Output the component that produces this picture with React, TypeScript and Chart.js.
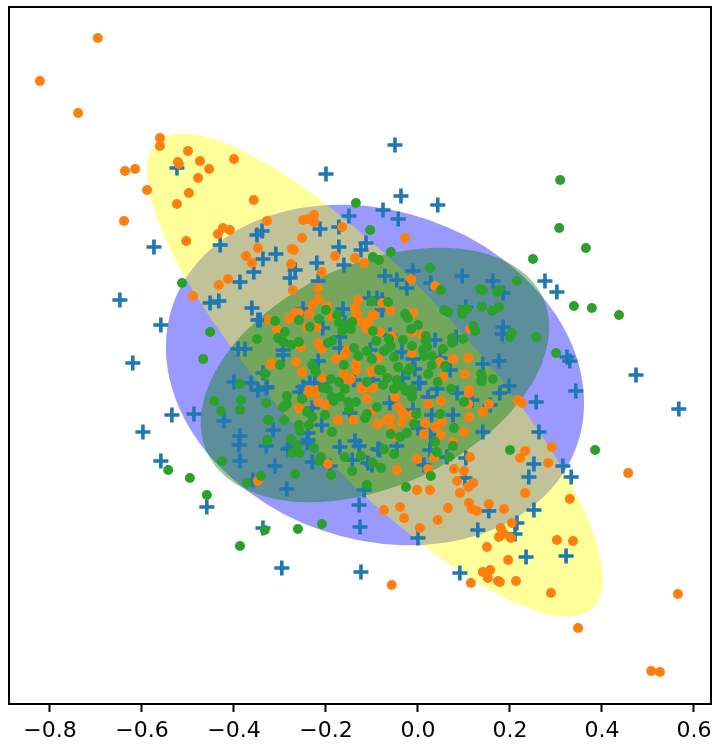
import React, { useEffect, useRef } from "react";
import { Chart, registerables } from "chart.js";

Chart.register(...registerables);

const tickValues = [-0.8, -0.6, -0.4, -0.2, 0, 0.2, 0.4, 0.6];

// [x, y]
const plusPoints = [
[-.524,.414],[-.574,.256],[-.430,.260],[-.050,.460],[-.200,.402],[-.037,.358],[.043,.340],[-.076,.330],[-.150,.318],[-.043,.312],
[-.213,.292],[-.172,.296],[-.339,.288],[-.350,.280],[-.113,.264],[-.172,.256],[-.124,.250],[-.309,.242],[-.337,.232],[-.220,.224],
[-.161,.220],[-.011,.208],[-.267,.210],[-.357,.206],[-.072,.198],[-.046,.190],[-.278,.194],[-.217,.188],[-.024,.174],[.028,.184],
[.096,.198],[-.387,.186],[-.107,.154],[-.089,.154],[-.078,.150],[.276,.188],[.302,.166],[.163,.188],[.185,.164],[.185,.096],
[.183,.082],[.324,.036],[.330,.028],[.474,0],[.343,-.032],[.141,.022],[.176,.028],[.198,-.022],[.178,-.036],[.257,-.054],
[-.648,.150],[-.559,.100],[-.620,.024],[-.535,-.080],[-.487,-.078],[-.598,-.114],[-.422,-.092],[-.387,-.122],[-.452,.144],[-.433,.148],
[-.361,.134],[-.343,.110],[-.348,.110],[-.391,.052],[-.376,.052],[-.400,-.014],[-.363,-.016],[-.348,-.030],[-.330,-.026],[-.337,.004],
[-.250,.132],[-.163,.132],[-.159,.104],[-.207,.094],[-.170,.076],[-.170,.054],[-.293,.050],[-.293,.040],[-.217,.028],[-.139,-.010],
[-.250,-.024],[-.224,-.016],[-.078,.130],[.104,.136],[.037,.070],[.083,.076],[-.035,.046],[-.011,.032],[-.007,.012],[-.061,.080],
[.070,.010],[.048,.034],[-.033,-.006],[.002,-.016],[.041,-.028],[-.104,.050],[-.098,-.010],[-.328,-.024],[-.257,-.034],[-.235,-.016],
[-.230,-.066],[-.209,-.016],[-.209,-.100],[-.239,-.130],[-.315,-.110],[-.330,-.142],[-.283,-.148],[-.311,-.182],[-.230,-.174],[-.170,-.144],
[-.143,-.170],[-.137,-.132],[-.128,-.142],[-.148,-.076],[-.100,-.180],[-.087,-.148],[.004,-.016],[.085,-.036],[.117,-.050],[-.061,-.056],
[.022,-.044],[-.011,-.070],[.030,-.080],[.076,-.080],[.141,-.114],[0,-.106],[.028,-.120],[-.046,-.142],[.026,-.150],[.063,-.164],
[.104,-.166],[-.083,-.150],[.013,-.180],[.102,-.206],[-.559,-.172],[-.459,-.264],[-.337,-.306],[-.296,-.386],[-.124,-.394],[-.126,-.304],
[-.128,-.260],[-.285,-.228],[-.387,-.172],[-.389,-.140],[-.278,-.146],[-.241,-.136],[-.239,-.116],[-.359,-.210],[-.191,-.182],[-.117,-.230],
[-.109,-.176],[.241,-.204],[.252,-.270],[.130,-.310],[.154,-.272],[0,-.326],[.091,-.396],[.215,-.296],[.211,-.318],[.235,-.364],
[.322,-.362],[.567,-.068],[.263,-.114],[.252,-.178],[.315,-.182],[.333,-.204],[.157,-.060],
];

const orangePoints = [
[-.696,.674],[-.822,.588],[-.739,.524],[-.561,.474],[-.561,.458],[-.500,.448],[-.400,.432],[-.522,.426],[-.520,.422],[-.474,.428],
[-.454,.412],[-.615,.412],[-.637,.408],[-.478,.394],[-.589,.370],[-.498,.364],[-.524,.342],[-.639,.308],[-.424,.294],[-.409,.290],
[-.435,.282],[-.504,.268],[-.357,.350],[-.328,.308],[-.226,.320],[-.239,.312],[-.250,.310],[-.226,.306],[-.165,.296],[-.252,.274],
[-.028,.274],[-.348,.254],[-.274,.252],[-.270,.250],[-.374,.238],[-.361,.224],[-.276,.222],[-.180,.238],[-.137,.234],[-.117,.224],
[-.209,.206],[-.015,.192],[-.217,.174],[-.272,.170],[.037,.178],[-.217,.152],[-.130,.150],[.217,-.050],[-.489,.158],[-.433,.180],
[-.413,.192],[-.324,.110],[-.320,.022],[-.230,.140],[-.198,.138],[-.267,.124],[-.259,.124],[-.237,.122],[-.280,.112],[-.189,.118],
[-.137,.134],[-.133,.122],[-.126,.108],[-.096,.120],[-.109,.106],[-.113,.092],[-.307,.092],[-.241,.096],[-.220,.096],[-.217,.064],
[-.209,.052],[-.254,.056],[-.154,.050],[-.159,.042],[-.178,.032],[-.315,.022],[-.265,.026],[-.252,.006],[-.135,.022],[-.135,.010],
[-.161,.004],[-.102,.008],[-.207,-.006],[-.159,-.008],[-.146,-.008],[-.237,-.030],[-.220,-.030],[-.122,-.026],[-.078,.144],[-.061,.130],
[-.098,.120],[-.011,.124],[-.083,.086],[-.057,.078],[-.013,.086],[.009,.080],[.113,.092],[-.013,.044],[-.087,.034],[.076,.032],
[.109,.034],[.102,.002],[.054,-.004],[-.100,.006],[-.098,-.026],[.111,-.030],[.048,.026],[-.239,-.036],[-.224,-.034],[-.217,-.054],
[-.200,-.060],[-.259,-.066],[-.174,-.090],[-.141,-.090],[-.120,-.028],[-.111,-.048],[-.102,-.074],[-.089,-.098],[-.196,-.178],[-.348,-.212],
[.050,-.052],[.111,-.036],[.109,-.058],[.022,-.058],[-.050,-.044],[-.043,-.064],[-.033,-.076],[-.061,-.086],[-.067,-.090],[-.087,-.098],
[-.035,-.094],[-.013,-.080],[.141,-.074],[.111,-.084],[.015,-.096],[.037,-.104],[.052,-.094],[.154,-.058],[.100,-.114],[.013,-.118],
[.050,-.120],[-.057,-.106],[-.046,-.124],[.076,-.134],[-.002,-.168],[.035,-.164],[.113,-.164],[-.046,-.190],[.022,-.188],[.078,-.188],
[.100,-.192],[-.057,-.420],[.115,-.416],[.004,-.306],[.043,-.290],[-.030,-.286],[-.039,-.264],[-.074,-.270],[.065,-.266],[-.002,-.230],
[.026,-.230],[.085,-.212],[.120,-.216],[.109,-.224],[.091,-.236],[.111,-.256],[.117,-.268],[.128,-.272],[.154,-.258],[.187,-.268],
[.233,-.236],[.180,-.306],[.204,-.296],[.187,-.318],[.176,-.324],[.202,-.326],[.150,-.344],[.196,-.370],[.141,-.394],[.157,-.390],
[.152,-.406],[.174,-.412],[.178,-.414],[.213,-.412],[.291,-.144],[.233,-.152],[.222,-.166],[.283,-.176],[.457,-.196],[.330,-.248],
[.302,-.330],[.337,-.332],[.289,-.436],[.565,-.438],[.348,-.506],[.507,-.592],[.526,-.594],[.226,-.056],
];

const greenPoints = [
[-.135,.344],[-.104,.290],[-.059,.246],[-.098,.236],[-.085,.230],[.026,.214],[.050,.170],[.135,.172],[-.100,.148],[-.065,.146],
[.309,.390],[.307,.294],[.365,.254],[.250,.232],[.215,.188],[.339,.138],[.378,.134],[.437,.120],[.141,.170],[.176,.170],
[.172,.166],[.139,.136],[.176,.136],[.161,.128],[.204,.084],[.200,.076],[.257,.076],[.300,.044],[.163,-.008],[.139,-.004],
[.139,-.012],[-.513,.184],[-.452,.086],[-.467,.032],[-.350,.072],[-.333,.002],[-.387,-.018],[-.385,-.050],[-.387,-.070],[-.443,-.052],
[-.428,-.072],[-.330,-.056],[-.326,-.090],[-.328,-.130],[-.200,.130],[-.176,.120],[-.311,.108],[-.259,.110],[-.215,.112],[-.235,.096],
[-.172,.104],[-.163,.100],[-.143,.106],[-.165,.088],[-.146,.092],[-.098,.088],[-.289,.086],[-.304,.074],[-.293,.066],[-.276,.060],
[-.259,.066],[-.196,.064],[-.187,.068],[-.091,.068],[-.139,.054],[-.111,.048],[-.130,.038],[-.100,.032],[-.230,.020],[-.224,.012],
[-.222,.006],[-.300,.020],[-.161,.020],[-.085,.010],[-.189,-.008],[-.172,-.014],[-.111,-.014],[-.196,-.028],[-.159,-.028],[-.028,.122],
[-.022,.114],[.057,.130],[.065,.126],[.096,.130],[.107,.132],[.096,.122],[.120,.098],[.124,.088],[-.015,.092],[0,.100],
[-.063,.072],[-.033,.070],[.017,.078],[.017,.068],[.074,.074],[.074,.064],[.098,.072],[-.059,.058],[-.065,.054],[-.074,.048],
[-.052,.036],[-.013,.058],[.011,.050],[.020,.056],[.054,.052],[.013,.038],[.030,.038],[.030,.020],[.059,.018],[-.043,.016],
[-.080,.010],[-.017,.014],[-.022,.008],[.022,.002],[-.067,-.006],[-.046,-.010],[-.076,-.020],[.043,-.014],[.137,.002],[.137,-.012],
[-.052,-.028],[-.033,-.024],[-.013,-.028],[.072,-.028],[-.285,-.042],[-.285,-.058],[-.293,-.064],[-.252,-.048],[-.241,-.074],[-.230,-.084],
[-.202,-.080],[-.237,-.100],[-.259,-.100],[-.257,-.112],[-.291,-.090],[-.324,-.090],[-.328,-.132],[-.276,-.128],[-.263,-.140],[-.274,-.156],
[-.257,-.156],[-.226,-.146],[-.211,-.164],[-.215,-.172],[-.187,-.114],[-.159,-.164],[-.124,-.162],[-.098,-.176],[-.143,-.192],[-.267,-.198],
[-.189,-.200],[-.341,-.202],[-.207,-.026],[-.187,-.044],[-.183,-.052],[-.170,-.044],[-.152,-.054],[-.135,-.054],[-.150,-.068],[-.089,-.064],
[-.115,-.086],[-.111,-.078],[-.026,-.032],[-.013,-.034],[-.013,-.044],[.100,-.054],[-.004,-.078],[.048,-.078],[-.009,-.098],[.078,-.106],
[-.024,-.116],[-.059,-.118],[-.039,-.124],[.037,-.134],[.076,-.142],[.041,-.154],[-.074,-.148],[-.052,-.158],[.067,-.164],[-.080,-.186],
[.028,-.202],[-.543,-.190],[-.496,-.206],[-.459,-.240],[-.333,-.310],[-.387,-.342],[-.261,-.308],[-.209,-.298],[-.426,-.172],[-.372,-.216],
[-.111,-.220],[-.026,-.224],[.200,-.150],[.385,-.150],
];

// centre x, centre y, semi-major, semi-minor (x-axis units), rotation in degrees
const ellipseCenter = [-0.0935, 0];
const blueEllipse = [0.465, 0.357, 19.2];
const yellowEllipse = [0.693, 0.202, 47];
const greenEllipse = [0.402, 0.242, -24.7];

const toXY = (pts: number[][]) => pts.map(([x, y]) => ({ x, y }));

const ellipsePlugin = {
  id: "ellipses",
  beforeDatasetsDraw(chart: any) {
    const { ctx, scales, chartArea } = chart;
    const cx = scales.x.getPixelForValue(ellipseCenter[0]);
    const cy = scales.y.getPixelForValue(ellipseCenter[1]);
    const unit = scales.x.getPixelForValue(1) - scales.x.getPixelForValue(0);
    const layers: [number[], string][] = [
      [blueEllipse, "rgba(0,0,255,0.4)"],
      [yellowEllipse, "rgba(255,255,0,0.4)"],
      [greenEllipse, "rgba(0,128,0,0.4)"],
    ];
    ctx.save();
    ctx.beginPath();
    ctx.rect(chartArea.left, chartArea.top, chartArea.width, chartArea.height);
    ctx.clip();
    for (const [e, color] of layers) {
      ctx.beginPath();
      ctx.ellipse(cx, cy, e[0] * unit, e[1] * unit, (e[2] * Math.PI) / 180, 0, Math.PI * 2);
      ctx.fillStyle = color;
      ctx.fill();
    }
    ctx.restore();
  },
};

const framePlugin = {
  id: "frame",
  afterDraw(chart: any) {
    const { ctx, chartArea: a } = chart;
    ctx.save();
    ctx.strokeStyle = "#000";
    ctx.lineWidth = 2;
    ctx.strokeRect(a.left, a.top, a.width, a.height);
    ctx.restore();
  },
};

export default function App() {
  const ref = useRef<HTMLCanvasElement>(null);
  useEffect(() => {
    const chart = new Chart(ref.current as HTMLCanvasElement, {
      type: "scatter",
      data: {
        datasets: [
          { data: toXY(greenPoints), pointStyle: "circle", pointRadius: 5, pointBorderWidth: 0, backgroundColor: "#2ca02c", borderColor: "#2ca02c" },
          { data: toXY(orangePoints), pointStyle: "circle", pointRadius: 5, pointBorderWidth: 0, backgroundColor: "#ff7f0e", borderColor: "#ff7f0e" },
          { data: toXY(plusPoints), pointStyle: "cross", pointRadius: 7.5, pointBorderWidth: 3.6, backgroundColor: "#1f77b4", borderColor: "#1f77b4" },
        ],
      } as any,
      options: {
        animation: false,
        responsive: false,
        devicePixelRatio: 1,
        layout: { autoPadding: false, padding: { left: 9, right: 9, top: 7, bottom: 0 } },
        plugins: { legend: { display: false }, tooltip: { enabled: false } },
        scales: {
          x: {
            type: "linear",
            min: -0.8891,
            max: 0.637,
            afterBuildTicks: (axis: any) => {
              axis.ticks = tickValues.map((value) => ({ value }));
            },
            afterFit: (axis: any) => {
              axis.height = 44;
            },
            grid: { drawOnChartArea: false, drawTicks: true, tickLength: 8, tickWidth: 2, tickColor: "#000" },
            border: { display: false },
            ticks: {
              autoSkip: false,
              maxRotation: 0,
              minRotation: 0,
              padding: 6,
              color: "#000",
              font: { family: "'DejaVu Sans'", size: 22 },
              callback: (v: any) => Number(v).toFixed(1).replace("-", "\u2212"),
            },
          },
          y: { type: "linear", display: false, min: -0.658, max: 0.736 },
        },
      } as any,
      plugins: [ellipsePlugin, framePlugin],
    });
    return () => chart.destroy();
  }, []);
  return (
    <canvas
      ref={ref}
      width={720}
      height={748}
      style={{ position: "absolute", left: 0, top: 0, width: 720, height: 748, display: "block" }}
    />
  );
}
